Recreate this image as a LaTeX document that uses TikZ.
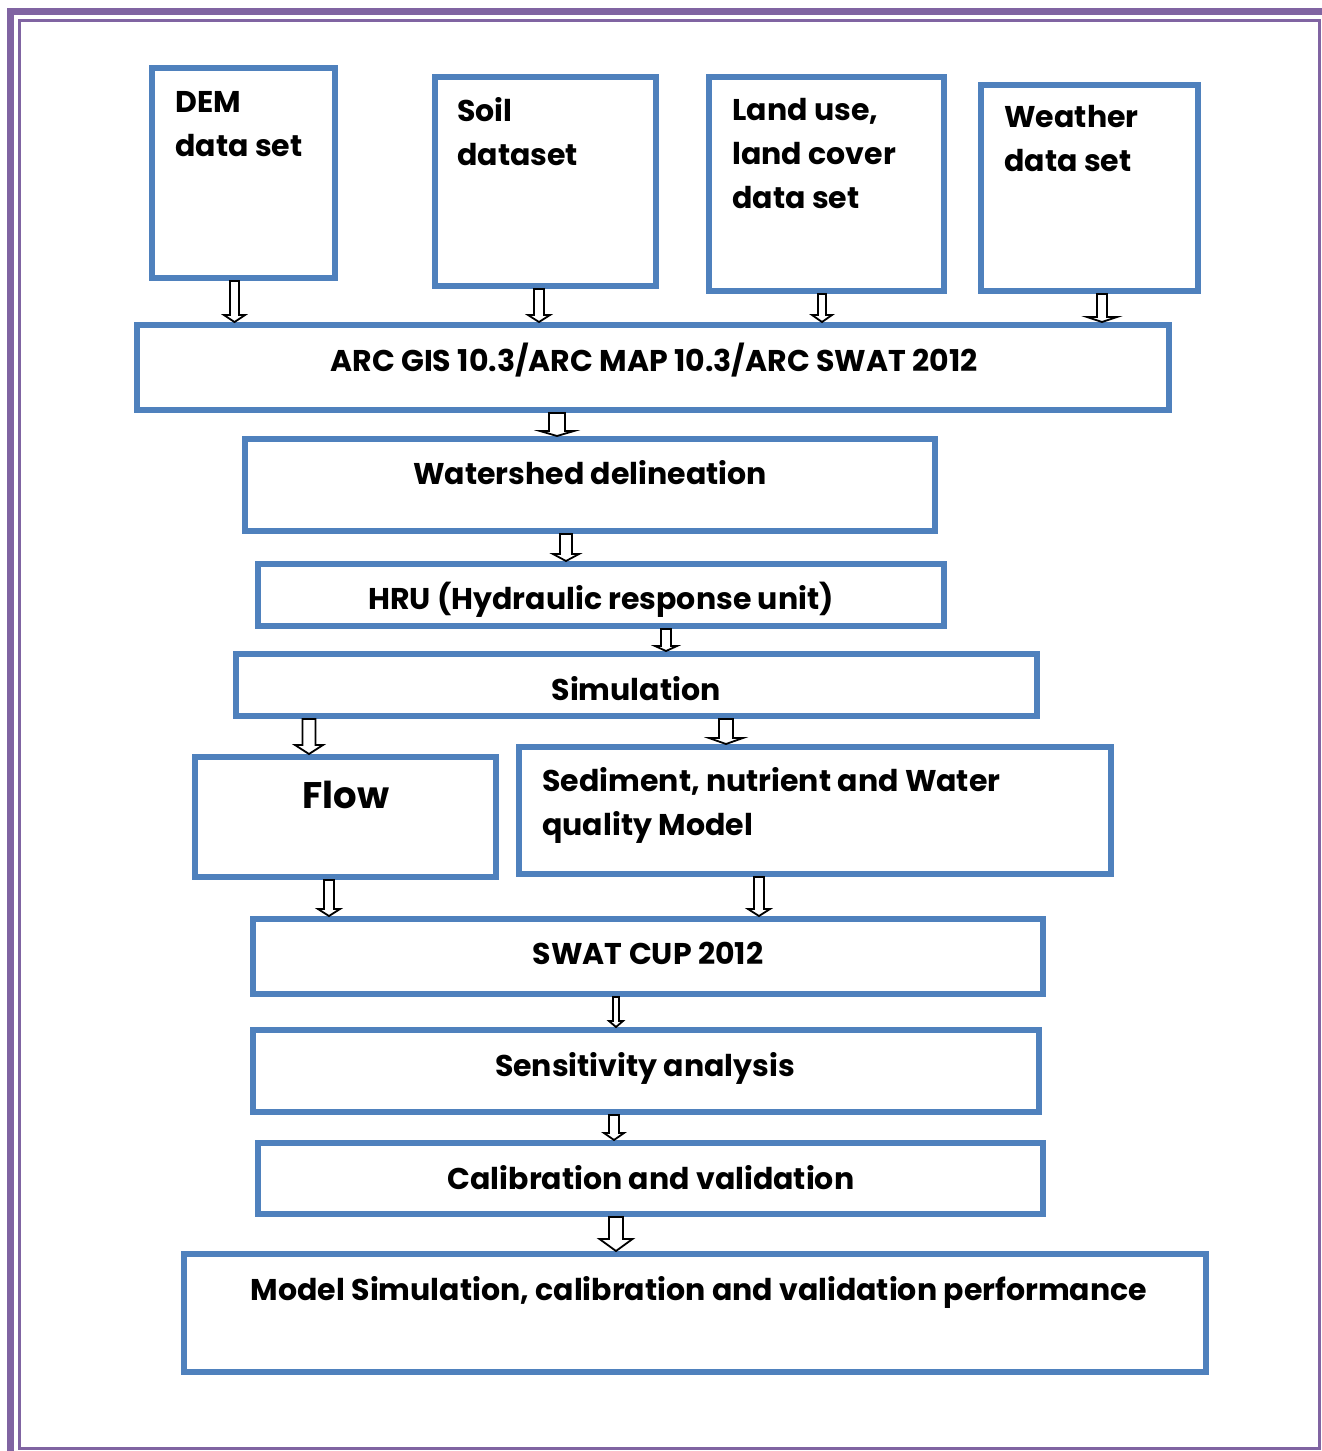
\documentclass[tikz,border=0pt]{standalone}
\usepackage{fontspec}
\setmainfont{Poppins}
\usetikzlibrary{calc}
\usetikzlibrary{fit}

\definecolor{boxblue}{HTML}{4F81BD}
\definecolor{framepurple}{HTML}{8064A2}

\tikzset{
  box/.style={draw=boxblue, line width=3pt, inner sep=0pt},
  boxtext/.style={inner sep=0pt, align=left, font=\bfseries\fontsize{15}{22}\selectfont},
  arrowline/.style={draw=black, fill=white, line width=0.9pt, line join=miter}
}

% hollow down arrow: x, upper node, lower node, half shaft, half head, head length
\newcommand{\flowarrow}[6]{%
  \coordinate (ax) at (#1,0);
  \draw[arrowline] ($(#2.south -| ax)+(-#4,0)$) -- ($(#3.north -| ax)+(-#4,-#6)$)
    -- ($(#3.north -| ax)+(-#5,-#6)$) -- (#3.north -| ax) -- ($(#3.north -| ax)+(#5,-#6)$)
    -- ($(#3.north -| ax)+(#4,-#6)$) -- ($(#2.south -| ax)+(#4,0)$) -- cycle;}

\begin{document}
\begin{tikzpicture}[x=0.5pt,y=-0.5pt]

\useasboundingbox (0,0) rectangle (1322,1451);

% frame
\draw[framepurple, line width=3.5pt] (10.5,1451) -- (10.5,11.5) -- (1322,11.5);
\draw[framepurple, line width=1.5pt] (19.5,20.5) rectangle (1319.5,1448.5);

% input data sets
\node[box, fit={(152,68) (335,278)}] (dem) {};
\node[box, fit={(435,77) (656,286)}] (soil) {};
\node[box, fit={(709,77) (944,291)}] (land) {};
\node[box, fit={(981,85) (1198,291)}] (weather) {};

\node[boxtext, anchor=north west] (demtext) at (175,91) {DEM\\data set};
\node[boxtext, anchor=north west] (soiltext) at (457,97) {Soil\\dataset};
\node[boxtext, anchor=north west] (landtext) at (732,98) {Land use,\\land cover\\data set};
\node[boxtext, anchor=north west] (weathertext) at (1004,105) {Weather\\data set};

% processing chain
\node[box, fit={(137,325) (1169,410)}] (arc) {};
\node[box, fit={(245,439) (935,531)}] (shed) {};
\node[box, fit={(258,564) (944,626)}] (hru) {};
\node[box, fit={(236,654) (1037,716)}] (sim) {};
\node[box, fit={(195,757) (496,877)}] (flow) {};
\node[box, fit={(519,747) (1111,874)}] (sed) {};
\node[box, fit={(253,919) (1043,994)}] (cup) {};
\node[box, fit={(253,1030) (1039,1112)}] (sens) {};
\node[box, fit={(258,1143) (1043,1214)}] (calib) {};
\node[box, fit={(184,1254) (1206,1372)}] (perf) {};

\node[boxtext, anchor=base] (arctext) at (654,371) {ARC GIS 10.3/ARC MAP 10.3/ARC SWAT 2012};
\node[boxtext, anchor=base] (shedtext) at (590,484) {Watershed delineation};
\node[boxtext, anchor=base] (hrutext) at (601,609) {HRU (Hydraulic response unit)};
\node[boxtext, anchor=base] (simtext) at (636,700) {Simulation};
\node[boxtext, anchor=base, font=\bfseries\fontsize{18.5}{24}\selectfont] (flowtext) at (346,808) {Flow};
\node[boxtext, anchor=north west] (sedtext) at (542,767) {Sediment, nutrient and Water\\quality Model};
\node[boxtext, anchor=base] (cuptext) at (648,964) {SWAT CUP 2012};
\node[boxtext, anchor=base] (senstext) at (645,1076) {Sensitivity analysis};
\node[boxtext, anchor=base] (calibtext) at (651,1189) {Calibration and validation};
\node[boxtext, anchor=base] (perftext) at (699,1300) {Model Simulation, calibration and validation performance};

% arrows
\flowarrow{234.5}{dem}{arc}{4.5}{10.5}{7}
\flowarrow{539}{soil}{arc}{5}{11}{7}
\flowarrow{822}{land}{arc}{4}{10}{7}
\flowarrow{1102}{weather}{arc}{5}{15}{5}
\flowarrow{557}{arc}{shed}{8}{17}{5}
\flowarrow{566}{shed}{hru}{6}{13}{7}
\flowarrow{666}{hru}{sim}{5}{11}{5}
\flowarrow{309}{sim}{flow}{6.5}{14}{9}
\flowarrow{726}{sim}{sed}{7}{17}{6}
\flowarrow{329}{flow}{cup}{5}{11}{7}
\flowarrow{759}{sed}{cup}{5}{11}{7}
\flowarrow{616}{cup}{sens}{3}{7}{6}
\flowarrow{614}{sens}{calib}{5}{10}{7}
\flowarrow{616}{calib}{perf}{7}{16.5}{12}

\end{tikzpicture}
\end{document}
